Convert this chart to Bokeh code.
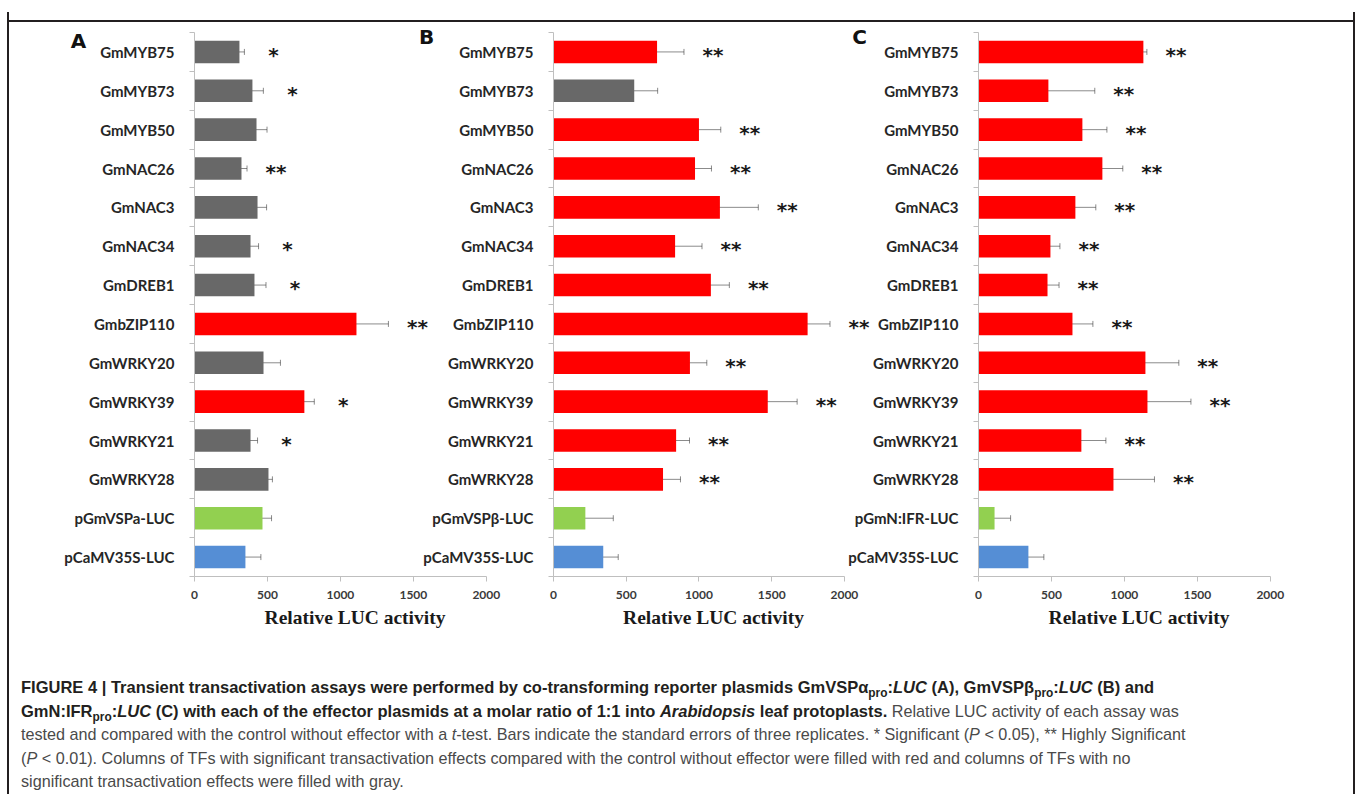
from bokeh.plotting import figure
from bokeh.models import ColumnDataSource, Whisker, FixedTicker, Div, Range1d
from bokeh.layouts import row, column
from bokeh.embed import file_html
from bokeh.resources import INLINE
from bokeh.core.properties import value

# ---------------- data ----------------
effectors = ["GmMYB75", "GmMYB73", "GmMYB50", "GmNAC26", "GmNAC3", "GmNAC34", "GmDREB1",
             "GmbZIP110", "GmWRKY20", "GmWRKY39", "GmWRKY21", "GmWRKY28"]
control = "pCaMV35S-LUC"
reporter_a = "pGmVSPa-LUC"
reporter_b = "pGmVSPβ-LUC"
reporter_c = "pGmN:IFR-LUC"

values_a = [308, 397, 425, 322, 432, 384, 411, 1110, 473, 753, 384, 507, 466, 349]
errors_a = [34, 75, 72, 38, 62, 55, 79, 219, 116, 68, 48, 27, 62, 106]
signif_a = ["*", "*", "", "**", "", "*", "*", "**", "", "*", "*", "", "", ""]
class_a = ["ns", "ns", "ns", "ns", "ns", "ns", "ns", "act", "ns", "act", "ns", "ns", "rep", "ctl"]

values_b = [712, 555, 1000, 973, 1144, 836, 1082, 1747, 938, 1473, 843, 753, 219, 342]
errors_b = [185, 161, 150, 113, 264, 185, 127, 154, 116, 202, 92, 120, 192, 103]
signif_b = ["**", "", "**", "**", "**", "**", "**", "**", "**", "**", "**", "**", "", ""]
class_b = ["act", "ns", "act", "act", "act", "act", "act", "act", "act", "act", "act", "act", "rep", "ctl"]

values_c = [1130, 479, 712, 849, 664, 493, 473, 644, 1144, 1158, 705, 925, 110, 342]
errors_c = [24, 318, 168, 140, 140, 65, 79, 140, 229, 298, 168, 281, 110, 106]
signif_c = ["**"] * 12 + ["", ""]
class_c = ["act"] * 12 + ["rep", "ctl"]

x_ticks = [0, 500, 1000, 1500, 2000]
x_title = "Relative LUC activity"

# ---------------- styles ----------------
COLORS = {"act": "#FF0000", "ns": "#686868", "rep": "#92D050", "ctl": "#558ED5"}
AXIS_GREY = "#BFBFBF"
LABEL_FONT = "Lato"
FRAME = "#231f20"


def panel(cats, vals, errs, sig, cls, letter, width, b_left, b_right, letter_dx, letter_dy):
    n = len(cats)
    ypos = [n - i - 0.5 for i in range(n)]
    src = ColumnDataSource(dict(
        y=ypos, v=vals,
        lo=[v - e for v, e in zip(vals, errs)],
        hi=[v + e for v, e in zip(vals, errs)],
        sig=sig, color=[COLORS[c] for c in cls],
    ))
    p = figure(width=width, height=638, x_range=Range1d(0, 2200), y_range=Range1d(0, n),
               output_backend="svg", toolbar_location=None,
               min_border_left=b_left, min_border_right=b_right,
               min_border_top=20, min_border_bottom=74)
    p.background_fill_color = None
    p.border_fill_color = None
    p.outline_line_color = None
    p.xgrid.visible = False
    p.ygrid.visible = False

    p.hbar(y="y", left=0, right="v", height=0.58, fill_color="color", line_color=None, source=src)

    w = Whisker(source=src, base="y", lower="lo", upper="hi", dimension="width",
                line_color="#2b2b2b", line_alpha=0.55, line_width=1)
    for h in (w.upper_head, w.lower_head):
        h.size = 6
        h.line_color = "#2b2b2b"
        h.line_alpha = 0.55
    p.add_layout(w)

    p.text(x="hi", y="y", text="sig", source=src, text_font=value("DejaVu Sans"),
           text_font_style="bold", text_font_size="20px", text_align="center",
           text_baseline="middle", x_offset=29, y_offset=3, text_color="#1a1a1a")

    xa = p.xaxis[0]
    xa.bounds = (0, 2000)
    xa.ticker = FixedTicker(ticks=x_ticks)
    xa.axis_line_color = AXIS_GREY
    xa.major_tick_line_color = AXIS_GREY
    xa.major_tick_out = 5
    xa.major_tick_in = 0
    xa.minor_tick_line_color = None
    xa.major_label_text_font = LABEL_FONT
    xa.major_label_text_font_style = "bold"
    xa.major_label_text_font_size = "12px"
    xa.major_label_text_color = "#3a3a3a"
    xa.major_label_standoff = 9
    xa.axis_label = x_title
    xa.axis_label_text_font = "Liberation Serif"
    xa.axis_label_text_font_style = "bold"
    xa.axis_label_text_font_size = "19.5px"
    xa.axis_label_text_color = "#1a1a1a"
    xa.axis_label_standoff = 5

    ya = p.yaxis[0]
    ya.ticker = FixedTicker(ticks=ypos, minor_ticks=list(range(n + 1)))
    ya.major_label_overrides = {y: c for y, c in zip(ypos, cats)}
    ya.axis_line_color = AXIS_GREY
    ya.major_tick_line_color = None
    ya.major_tick_out = 0
    ya.major_tick_in = 0
    ya.minor_tick_line_color = AXIS_GREY
    ya.minor_tick_out = 5
    ya.minor_tick_in = 0
    ya.major_label_standoff = 15
    ya.major_label_text_font = LABEL_FONT
    ya.major_label_text_font_style = "bold"
    ya.major_label_text_font_size = "15px"
    ya.major_label_text_color = "#262626"

    # panel letter, anchored at the frame's top-left corner, drawn above the clip level
    r = p.text(x=[0], y=[n], text=[letter], text_font=value("DejaVu Sans"),
               text_font_style="bold", text_font_size="20px", text_align="center",
               text_baseline="middle", x_offset=letter_dx, y_offset=letter_dy,
               text_color="#111111")
    r.level = "overlay"
    return p


cats_a = effectors + [reporter_a, control]
cats_b = effectors + [reporter_b, control]
cats_c = effectors + [reporter_c, control]

fa = panel(cats_a, values_a, errors_a, signif_a, class_a, "A", 506, 185, 0, -116, 8)
fb = panel(cats_b, values_b, errors_b, signif_b, class_b, "B", 453, 132, 0, -127, 4)
fc = panel(cats_c, values_c, errors_c, signif_c, class_c, "C", 513, 138, 54, -119, 4)
fb.margin = (0, 0, 0, -95)
fc.margin = (0, 0, 0, -33)

SUB = '<sub style="font-size:0.72em;line-height:0;vertical-align:-0.3em">pro</sub>'
caption_html = (
    '<div style="font-family:\'Liberation Sans\',Arial,sans-serif;font-size:16.2px;'
    'line-height:23.6px;color:#4a4a4a;white-space:nowrap;padding:26px 0 0 12px;">'
    '<b style="color:#231f20;font-size:16.5px">FIGURE 4 | Transient transactivation assays were performed by '
    'co-transforming reporter plasmids GmVSP&alpha;' + SUB + ':<i>LUC</i> (A), GmVSP&beta;' + SUB +
    ':<i>LUC</i> (B) and<br>'
    'GmN:IFR' + SUB + ':<i>LUC</i> '
    '(C) with each of the effector plasmids at a molar ratio of 1:1 into <i>Arabidopsis</i> '
    'leaf protoplasts.</b> Relative LUC activity of each assay was<br>'
    'tested and compared with the control without effector with a <i>t</i>-test. Bars indicate '
    'the standard errors of three replicates. * Significant (<i>P</i> &lt; 0.05), ** Highly '
    'Significant<br>'
    '(<i>P</i> &lt; 0.01). Columns of TFs with significant transactivation effects compared with '
    'the control without effector were filled with red and columns of TFs with no<br>'
    'significant transactivation effects were filled with gray.'
    '</div>'
)
cap = Div(text=caption_html, width=1344, height=144, margin=0)

charts = row(fa, fb, fc, spacing=0)
content = column(charts, cap, spacing=0)

top_line = Div(text='<div style="width:1348px;height:2px;background:%s"></div>' % FRAME,
               width=1348, height=2, margin=0)
left_line = Div(text='<div style="width:2px;height:782px;background:%s"></div>' % FRAME,
                width=2, height=782, margin=0)
right_line = Div(text='<div style="width:2px;height:782px;background:%s"></div>' % FRAME,
                 width=2, height=782, margin=0)

p = column(top_line, row(left_line, content, right_line, spacing=0), spacing=0,
           margin=(10, 0, 0, 7))

open("out.html", "w").write(file_html(p, INLINE))
